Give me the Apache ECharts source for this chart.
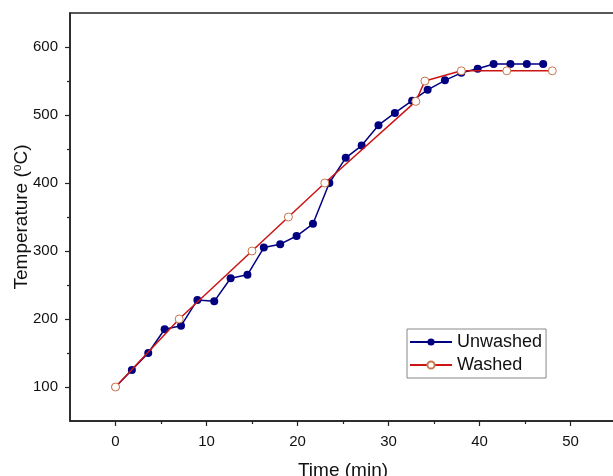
<!DOCTYPE html>
<html>
<head>
<meta charset="utf-8">
<script src="https://cdn.jsdelivr.net/npm/echarts@6/dist/echarts.min.js"></script>
<style>html,body{margin:0;padding:0;background:#fff}#c{width:613px;height:476px}</style>
</head>
<body>
<div id="c"></div>
<script>
const unwashedTime = [0, 1.8, 3.6, 5.4, 7.2, 9.0, 10.85, 12.65, 14.5, 16.3, 18.1, 19.9, 21.7, 23.5, 25.3, 27.05, 28.9, 30.7, 32.6, 34.3, 36.2, 38.0, 39.8, 41.55, 43.4, 45.2, 47.0];
const unwashedTemp = [100, 125, 150, 185, 190, 228, 226, 260, 265, 305, 310, 322, 340, 400, 437, 455, 485, 503, 521, 537, 551, 562, 568, 575, 575, 575, 575];
const washedTime = [0, 7, 15, 19, 23, 33, 34, 38, 43, 48];
const washedTemp = [100, 200, 300, 350, 400, 520, 550, 565, 565, 565];
const xMajorTicks = [0, 10, 20, 30, 40, 50];
const xMinorTicks = [5, 15, 25, 35, 45];
const yMajorTicks = [100, 200, 300, 400, 500, 600];
const yMinorTicks = [150, 250, 350, 450, 550];

const font = 'Liberation Sans';
const axisColor = '#222';
const chart = echarts.init(document.getElementById('c'));
const zip = (a, b) => a.map((v, i) => [v, b[i]]);

chart.setOption({
  animation: false,
  textStyle: { fontFamily: font },
  grid: { left: 70, right: -3, top: 13, bottom: 55, outerBoundsMode: 'none', containLabel: false,
    show: true, borderColor: axisColor, borderWidth: 1.5, backgroundColor: 'transparent' },
  legend: {
    orient: 'vertical', left: 407, top: 329,
    padding: [4, 4, 4, 2], itemGap: 5, itemWidth: 42, itemHeight: 9,
    borderColor: '#888', borderWidth: 1,
    textStyle: { fontFamily: font, fontSize: 18, color: '#111' },
    data: ['Unwashed', 'Washed']
  },
  xAxis: [{
    type: 'value', min: -5, max: 55,
    name: 'Time (min)', nameLocation: 'middle', nameGap: 40, nameMoveOverlap: false,
    nameTextStyle: { fontFamily: font, fontSize: 19, color: '#111' },
    axisLine: { show: true, onZero: false, lineStyle: { color: axisColor, width: 1.5 } },
    axisTick: { show: true, customValues: xMajorTicks, length: 5, lineStyle: { color: axisColor, width: 1.2 } },
    axisLabel: { customValues: xMajorTicks, fontSize: 15, color: '#111', margin: 13, fontFamily: font },
    splitLine: { show: false }
  }, {
    type: 'value', min: -5, max: 55, position: 'bottom',
    axisLine: { show: false, onZero: false },
    axisTick: { show: true, customValues: xMinorTicks, length: 3, lineStyle: { color: axisColor, width: 1.2 } },
    axisLabel: { show: false },
    splitLine: { show: false }
  }],
  yAxis: [{
    type: 'value', min: 50, max: 650,
    name: 'Temperature ({sup|o}C)', nameLocation: 'middle', nameGap: 39, nameMoveOverlap: false,
    nameTextStyle: { fontFamily: font, fontSize: 19, color: '#111',
      rich: { sup: { fontFamily: font, fontSize: 12, color: '#111', verticalAlign: 'top', padding: [0, 0, 7, 0] } } },
    axisLine: { show: true, onZero: false, lineStyle: { color: axisColor, width: 1.5 } },
    axisTick: { show: true, customValues: yMajorTicks, length: 5, lineStyle: { color: axisColor, width: 1.2 } },
    axisLabel: { customValues: yMajorTicks, fontSize: 15, color: '#111', margin: 12, fontFamily: font },
    splitLine: { show: false }
  }, {
    type: 'value', min: 50, max: 650, position: 'left',
    axisLine: { show: false, onZero: false },
    axisTick: { show: true, customValues: yMinorTicks, length: 3, lineStyle: { color: axisColor, width: 1.2 } },
    axisLabel: { show: false },
    splitLine: { show: false }
  }],
  series: [{
    name: 'Unwashed', type: 'line', xAxisIndex: 0, yAxisIndex: 0, z: 2,
    data: zip(unwashedTime, unwashedTemp),
    symbol: 'circle', symbolSize: 8, showAllSymbol: true,
    lineStyle: { color: '#000080', width: 1.5 },
    itemStyle: { color: '#000080' }
  }, {
    name: 'Washed', type: 'line', xAxisIndex: 0, yAxisIndex: 0, z: 3,
    data: zip(washedTime, washedTemp),
    symbol: 'circle', symbolSize: 8, showAllSymbol: true,
    lineStyle: { color: '#cc1414', width: 1.5 },
    itemStyle: { color: '#ffffff', borderColor: '#c8764a', borderWidth: 1 }
  }]
});
</script>
</body>
</html>
